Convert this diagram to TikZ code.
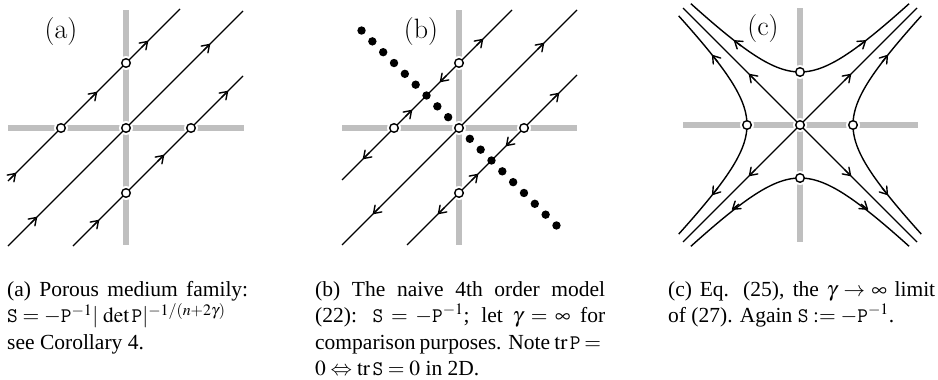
\documentclass[tikz,border=0pt]{standalone}
\usepackage{mathptmx}
\usepackage{fontspec}
\setmainfont{Liberation Serif}
\setmonofont{Liberation Mono}
\usetikzlibrary{arrows.meta}
\tikzset{
  bar/.style={line width=6pt, draw=black!25},
  halo/.style={fill=white},
  flow/.style={line width=1.4pt, draw=black},
  fixpt/.style={line width=1.4pt, draw=black, fill=white},
  dotpt/.style={fill=black},
  flowtip/.tip={Straight Barb[length=7pt,width=9.5pt,round]},
  panellabel/.style={inner sep=0pt, font=\fontfamily{lmr}\fontsize{28}{32}\selectfont},
  caption/.style={inner sep=0pt, anchor=north west, align=justify,
    font=\fontsize{21.5}{26.5}\selectfont}
}
\newcommand\fltip[2]{\draw[flow,-flowtip] #1 ++(#2+180:9) -- ++(#2:9);}
\newcommand\fixpts[1]{\foreach \p in {#1} {\fill[halo] \p circle (7);}}
\newcommand\fixcirc[1]{\foreach \p in {#1} {\draw[fixpt] \p circle (4.3);}}
\newcommand\jline[1]{\makebox[\linewidth][s]{#1}}
\begin{document}
\begin{tikzpicture}[x=1pt,y=-1pt]
\useasboundingbox (0,0) rectangle (938,380);
% ---------------- panel (a)
\draw[bar] (126,10) -- (126,245);
\draw[bar] (8,128) -- (244,128);
\fixpts{(126,63),(61,128),(126,128),(191,128),(126,193)}
\draw[flow] (8,181) -- (180,9);
\draw[flow] (8,246) -- (243,11);
\draw[flow] (73,246) -- (243,76);
\fltip{(16,173)}{-45}\fltip{(97,92)}{-45}\fltip{(148,41)}{-45}
\fltip{(37,217)}{-45}\fltip{(210,44)}{-45}
\fltip{(99,220)}{-45}\fltip{(164,155)}{-45}\fltip{(228,91)}{-45}
\fixcirc{(126,63),(61,128),(126,128),(191,128),(126,193)}
\node[panellabel] (la) at (61,32) {(a)};
% ---------------- panel (b)
\draw[bar] (459,10) -- (459,245);
\draw[bar] (342,128) -- (577,128);
\fixpts{(459,63),(394,128),(459,128),(524,128),(459,193)}
\draw[flow] (342,180) -- (512,10);
\draw[flow] (342,245) -- (577,10);
\draw[flow] (407,245) -- (577,75);
\fltip{(363,159)}{135}\fltip{(412,110)}{-45}\fltip{(440,82)}{135}\fltip{(483,39)}{-45}
\fltip{(373,214)}{135}\fltip{(544,43)}{-45}
\fltip{(438,214)}{135}\fltip{(478,174)}{-45}\fltip{(506,146)}{135}\fltip{(559,93)}{-45}
\foreach \k in {-9,...,9} \fill[dotpt] ({459+10.83*\k},{128+10.83*\k}) circle (4.2);
\fixcirc{(459,63),(394,128),(459,128),(524,128),(459,193)}
\node[panellabel] (lb) at (421,32) {(b)};
% ---------------- panel (c)
\draw[bar] (800,8) -- (800,242);
\draw[bar] (683,125) -- (918,125);
\fixpts{(800,72),(800,178),(747,125),(853,125),(800,125)}
\draw[flow] (683,8) -- (917,242);
\draw[flow] (683,242) -- (917,8);
\draw[flow] plot[domain=-1.47:1.47, samples=60] ({800+53*sinh(\x)},{125-53*cosh(\x)});
\draw[flow] plot[domain=-1.47:1.47, samples=60] ({800+53*sinh(\x)},{125+53*cosh(\x)});
\draw[flow] plot[domain=-1.47:1.47, samples=60] ({800+53*cosh(\x)},{125+53*sinh(\x)});
\draw[flow] plot[domain=-1.47:1.47, samples=60] ({800-53*cosh(\x)},{125+53*sinh(\x)});
\fltip{(734,40.4)}{-142}\fltip{(866,40.4)}{-38}
\fltip{(732,209.6)}{142}\fltip{(868,209.6)}{38}
\fltip{(887.8,55)}{-51.4}\fltip{(887.8,195)}{51.4}
\fltip{(712.2,55)}{-128.6}\fltip{(712.2,195)}{128.6}
\fltip{(749,74)}{-135}\fltip{(851,74)}{-45}\fltip{(749,176)}{135}\fltip{(851,176)}{45}
\fixcirc{(800,72),(800,178),(747,125),(853,125),(800,125)}
\node[panellabel] (lc) at (763,29) {(c)};
% ---------------- captions
\node[caption, text width=241pt] (ca) at (7,281)
  {\jline{(a) Porous medium family:}\\
   $\mathtt{S}=-\mathtt{P}^{-1}|\,\det\mathtt{P}|^{-1/(n+2\gamma)}$\\
   see Corollary 4.};
\node[caption, text width=290pt] (cb) at (315,281)
  {\jline{(b) The naive 4th order model}\\
   \jline{(22): $\mathtt{S}=-\mathtt{P}^{-1}$; let $\gamma=\infty$ for}\\
   \jline{comparison purposes. Note $\mathrm{tr}\,\mathtt{P}={}$}\\
   $0\Leftrightarrow\mathrm{tr}\,\mathtt{S}=0$ in 2D.};
\node[caption, text width=267pt] (cc) at (668,281)
  {\jline{(c) Eq. (25), the $\gamma\to\infty$ limit}\\
   of (27). Again $\mathtt{S}:=-\mathtt{P}^{-1}$.};
\end{tikzpicture}
\end{document}
